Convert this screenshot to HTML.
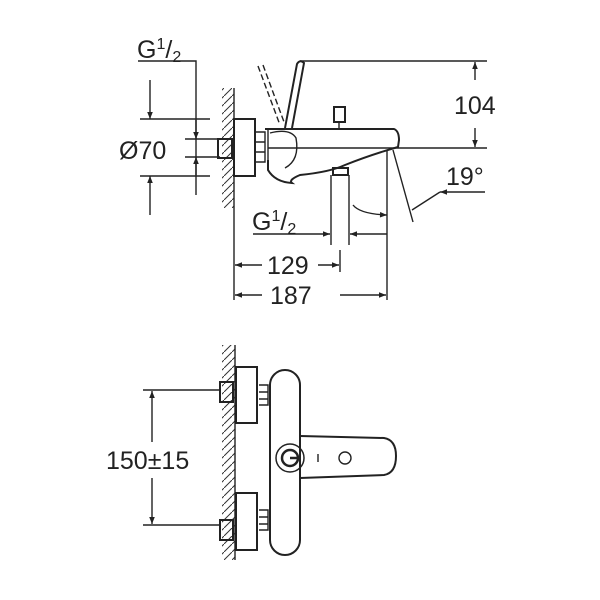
<!DOCTYPE html>
<html><head><style>body{margin:0;background:#fff}svg{display:block}text{font-family:"Liberation Sans",sans-serif;fill:#222}</style></head>
<body>
<svg width="600" height="600" viewBox="0 0 600 600" xmlns="http://www.w3.org/2000/svg">
<defs>
<pattern id="h" width="8" height="8" patternUnits="userSpaceOnUse"><path d="M8,0 L0,8" stroke="#333" stroke-width="1"/></pattern>
<marker id="a" viewBox="0 0 10 10" refX="10" refY="5" markerWidth="10" markerHeight="7" orient="auto-start-reverse" markerUnits="userSpaceOnUse"><path d="M0,1 L10,5 L0,9z" fill="#222"/></marker>
</defs>
<g stroke="#222" stroke-width="1.4" fill="none">
<!-- TOP VIEW -->
<rect x="222" y="88" width="12" height="120" fill="url(#h)" stroke="none"/>
<line x1="234" y1="88" x2="234" y2="300"/>
<path d="M138,61 H196 V195"/>
<line x1="150" y1="80" x2="150" y2="119" marker-end="url(#a)"/>
<line x1="150" y1="215" x2="150" y2="176" marker-end="url(#a)"/>
<line x1="140" y1="119" x2="210" y2="119"/>
<line x1="140" y1="176" x2="210" y2="176"/>
<line x1="185" y1="139" x2="220" y2="139"/>
<line x1="185" y1="157" x2="220" y2="157"/>
<line x1="196" y1="120" x2="196" y2="139" marker-end="url(#a)"/>
<line x1="196" y1="175" x2="196" y2="157" marker-end="url(#a)"/>
<rect x="218" y="139" width="14" height="19" stroke-width="2"/>
<rect x="234" y="119" width="21" height="57" stroke-width="2"/>
<path d="M255,132 H265 V162 H255 M255,142 H265 M255,152 H265"/>
<path d="M265,129 H394 Q399,131 399,140 L398,147 Q370,155 345,165 Q330,172 300,175 Q288,180 292,183 Q275,182 268,170 L268,160" stroke-width="2"/>
<path d="M268,129 L268,160 M270,133 Q290,128 296,138 Q300,160 285,168" />
<line x1="268" y1="148" x2="487" y2="148"/>
<path d="M285,128 L297,64 Q300,59 304,63 L292,128" stroke-width="2"/>
<path d="M258,66 L280,125 M263,65 L284,122" stroke-dasharray="6,3"/>
<line x1="300" y1="61" x2="487" y2="61"/>
<rect x="334" y="107" width="11" height="15" stroke-width="2"/>
<line x1="339" y1="122" x2="339" y2="129"/>
<rect x="333" y="168" width="15" height="7" stroke-width="2"/>
<line x1="331" y1="175" x2="331" y2="245"/>
<line x1="349" y1="175" x2="349" y2="245"/>
<line x1="475" y1="80" x2="475" y2="62" marker-end="url(#a)"/>
<line x1="475" y1="128" x2="475" y2="147" marker-end="url(#a)"/>
<line x1="393" y1="150" x2="413" y2="222"/>
<path d="M440,192 H485 M440,192 L412,210" marker-start="url(#a)"/>
<path d="M353,205 Q360,214 387,215" marker-end="url(#a)"/>
<line x1="387" y1="150" x2="387" y2="300"/>
<line x1="253" y1="234" x2="330" y2="234" marker-end="url(#a)"/>
<line x1="387" y1="234" x2="350" y2="234" marker-end="url(#a)"/>
<line x1="340" y1="250" x2="340" y2="272"/>
<line x1="262" y1="265" x2="235" y2="265" marker-end="url(#a)"/>
<line x1="318" y1="265" x2="339" y2="265" marker-end="url(#a)"/>
<line x1="262" y1="295" x2="235" y2="295" marker-end="url(#a)"/>
<line x1="340" y1="295" x2="386" y2="295" marker-end="url(#a)"/>
<!-- BOTTOM VIEW -->
<rect x="222" y="345" width="13" height="215" fill="url(#h)" stroke="none"/>
<line x1="235" y1="345" x2="235" y2="560"/>
<rect x="236" y="367" width="21" height="56" stroke-width="2"/>
<rect x="236" y="493" width="21" height="57" stroke-width="2"/>
<rect x="220" y="382" width="13" height="20" stroke-width="2"/>
<rect x="220" y="520" width="13" height="20" stroke-width="2"/>
<path d="M259,385 H268 V405 H259 M259,392 H268 M259,399 H268"/>
<path d="M259,510 H268 V530 H259 M259,517 H268 M259,524 H268"/>
<path d="M300,436 L384,438 Q396,440 396,456 Q396,473 384,475 L300,478" stroke-width="2"/>
<rect x="270" y="370" width="30" height="185" rx="15" fill="#fff" stroke-width="2"/>
<circle cx="290" cy="458" r="14" stroke-width="1.5"/>
<circle cx="290" cy="458" r="8" stroke-width="2.5"/>
<line x1="290" y1="458" x2="300" y2="458" stroke-width="2.5"/>
<line x1="318" y1="454" x2="318" y2="462"/>
<circle cx="345" cy="458" r="6"/>
<line x1="143" y1="390" x2="220" y2="390"/>
<line x1="143" y1="525" x2="220" y2="525"/>
<line x1="152" y1="442" x2="152" y2="391" marker-end="url(#a)"/>
<line x1="152" y1="478" x2="152" y2="524" marker-end="url(#a)"/>
</g>
<text x="137" y="58" font-size="25">G<tspan font-size="16" dy="-9">1</tspan><tspan dy="9">/</tspan><tspan font-size="16" dy="4">2</tspan></text>
<text x="119" y="159" font-size="25">Ø70</text>
<text x="454" y="114" font-size="25">104</text>
<text x="446" y="185" font-size="25">19°</text>
<text x="252" y="230" font-size="25">G<tspan font-size="16" dy="-9">1</tspan><tspan dy="9">/</tspan><tspan font-size="16" dy="4">2</tspan></text>
<text x="267" y="274" font-size="25">129</text>
<text x="270" y="304" font-size="25">187</text>
<text x="106" y="469" font-size="25">150±15</text>
</svg>
</body></html>
